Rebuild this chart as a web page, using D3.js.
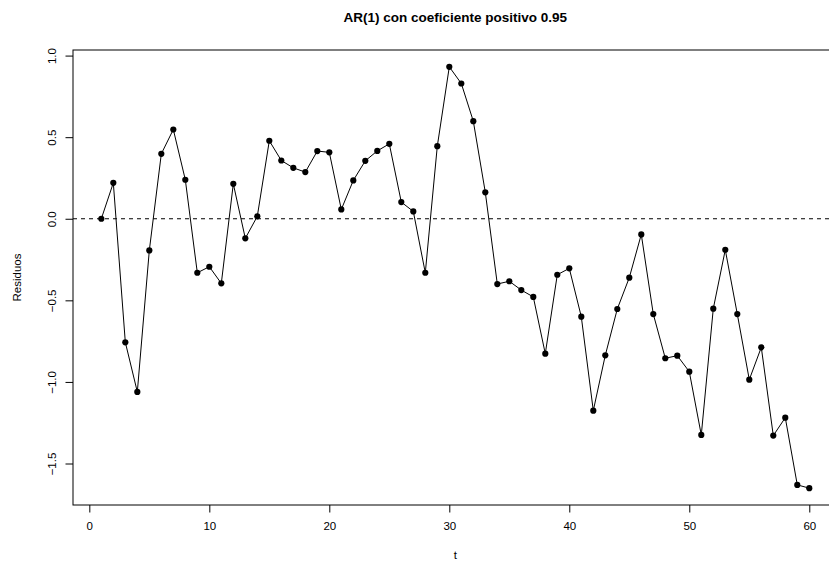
<!DOCTYPE html>
<html>
<head>
<meta charset="utf-8">
<script src="https://cdn.jsdelivr.net/npm/d3@7"></script>
<style>
  html, body { margin: 0; padding: 0; background: #fff; }
  svg { display: block; font-family: "Liberation Sans", Arial, Helvetica, sans-serif; }
</style>
</head>
<body>
<svg id="chart" width="829" height="564"></svg>
<script>
// AR(1) simulated residuals, t = 1..60
const t = d3.range(1, 61);
const residuos = [
  0.000, 0.220, -0.757, -1.061, -0.194, 0.398, 0.547, 0.239, -0.331, -0.294,
  -0.396, 0.214, -0.120, 0.015, 0.478, 0.357, 0.312, 0.286, 0.415, 0.407,
  0.057, 0.235, 0.355, 0.416, 0.459, 0.102, 0.045, -0.331, 0.445, 0.931,
  0.829, 0.598, 0.162, -0.400, -0.383, -0.437, -0.479, -0.827, -0.343, -0.304,
  -0.600, -1.176, -0.837, -0.553, -0.361, -0.096, -0.584, -0.855, -0.839, -0.937,
  -1.325, -0.551, -0.190, -0.584, -0.986, -0.788, -1.329, -1.219, -1.631, -1.651
];
const xTicks = [0, 10, 20, 30, 40, 50, 60];
const yTicks = [-1.5, -1.0, -0.5, 0.0, 0.5, 1.0];
const title = "AR(1) con coeficiente positivo 0.95";
const xLabel = "t";
const yLabel = "Residuos";

const svg = d3.select("#chart");
const W = 829, H = 564;
// plot region (right side runs past the canvas edge)
const plot = { left: 73, right: 837.6, top: 50, bottom: 505 };

// R-style 4% padding around data range
function padded(ext) {
  const d = (ext[1] - ext[0]) * 0.04;
  return [ext[0] - d, ext[1] + d];
}
const x = d3.scaleLinear().domain(padded(d3.extent(t))).range([plot.left, plot.right]);
const y = d3.scaleLinear().domain(padded(d3.extent(residuos))).range([plot.bottom, plot.top]);

const fmtY = d => d3.format(".1f")(d).replace("-", "\u2212");

// X axis
const xAxis = d3.axisBottom(x).tickValues(xTicks).tickSize(7.5).tickPadding(9).tickFormat(d3.format("d"));
const gx = svg.append("g").attr("transform", `translate(0,${plot.bottom})`).call(xAxis);
gx.select(".domain").remove();
gx.selectAll("line").attr("stroke", "#000");
gx.selectAll("text").attr("font-size", "11.5px").attr("fill", "#000").attr("font-family", "Liberation Sans, Arial, sans-serif");

// Y axis with rotated labels
const yAxis = d3.axisLeft(y).tickValues(yTicks).tickSize(7.5).tickFormat(fmtY);
const gy = svg.append("g").attr("transform", `translate(${plot.left},0)`).call(yAxis);
gy.select(".domain").remove();
gy.selectAll("line").attr("stroke", "#000");
gy.selectAll("text")
  .attr("font-size", "11.5px").attr("fill", "#000")
  .attr("font-family", "Liberation Sans, Arial, sans-serif")
  .attr("x", null).attr("dy", null)
  .attr("text-anchor", "middle")
  .attr("transform", "translate(-17,0) rotate(-90)");

// box
svg.append("rect")
  .attr("x", plot.left).attr("y", plot.top)
  .attr("width", plot.right - plot.left).attr("height", plot.bottom - plot.top)
  .attr("fill", "none").attr("stroke", "#000").attr("stroke-width", 1);

// reference line at zero
svg.append("line")
  .attr("x1", plot.left).attr("x2", plot.right)
  .attr("y1", y(0)).attr("y2", y(0))
  .attr("stroke", "#000").attr("stroke-width", 1)
  .attr("stroke-dasharray", "4,4");

// series line
const pts = t.map((d, i) => [d, residuos[i]]);
svg.append("path")
  .datum(pts)
  .attr("fill", "none").attr("stroke", "#000").attr("stroke-width", 1)
  .attr("d", d3.line().x(d => x(d[0])).y(d => y(d[1])));

// points
svg.append("g").selectAll("circle")
  .data(pts).join("circle")
  .attr("cx", d => x(d[0])).attr("cy", d => y(d[1]))
  .attr("r", 3.1).attr("fill", "#000");

// titles
svg.append("text")
  .attr("x", (plot.left + plot.right) / 2).attr("y", 22)
  .attr("text-anchor", "middle").attr("font-weight", "bold")
  .attr("font-size", "13.5px").text(title);

svg.append("text")
  .attr("x", (plot.left + plot.right) / 2).attr("y", 559)
  .attr("text-anchor", "middle").attr("font-size", "11.5px").text(xLabel);

svg.append("text")
  .attr("transform", `translate(21,${(plot.top + plot.bottom) / 2}) rotate(-90)`)
  .attr("text-anchor", "middle").attr("font-size", "11.5px").text(yLabel);
</script>
</body>
</html>
